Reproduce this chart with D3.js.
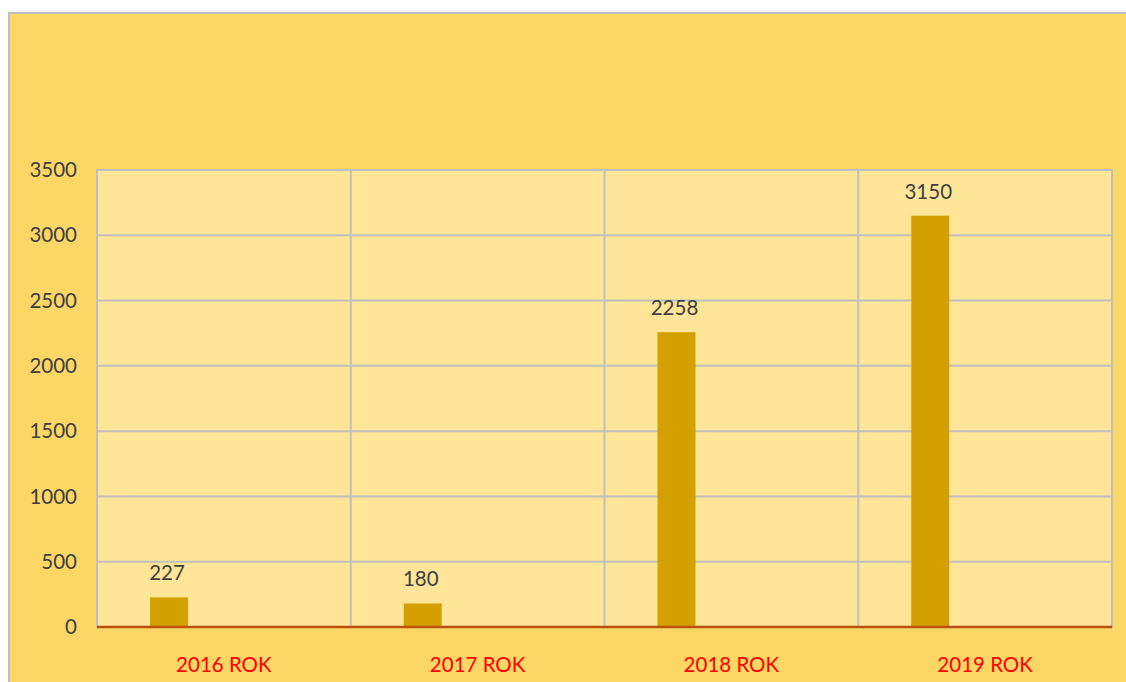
<!DOCTYPE html>
<html>
<head>
<meta charset="utf-8">
<script src="https://cdn.jsdelivr.net/npm/d3@7"></script>
<style>
  body { margin: 0; background: #fff; }
  svg { display: block; font-family: Lato, "Open Sans", sans-serif; }
</style>
</head>
<body>
<svg id="chart" width="1126" height="682"></svg>
<script>
// data
var categories = ["2016 ROK", "2017 ROK", "2018 ROK", "2019 ROK"];
var values = [227, 180, 2258, 3150];
var yTicks = [0, 500, 1000, 1500, 2000, 2500, 3000, 3500];

var svg = d3.select("#chart");
var plotLeft = 97, plotRight = 1112, plotTop = 170, plotBottom = 627;

// outer chart area
svg.append("rect")
    .attr("x", 9).attr("y", 13)
    .attr("width", 1130).attr("height", 700)
    .attr("fill", "#FDD766")
    .attr("stroke", "#BFBFBF").attr("stroke-width", 2);

var x = d3.scaleBand().domain(categories).range([plotLeft, plotRight]);
// bar sits in the first of four slots (clustered look)
var xs = d3.scaleBand().domain([0, 1, 2, 3]).range([53, x.bandwidth() - 53]);
var y = d3.scaleLinear().domain([0, 3500]).range([plotBottom, plotTop]);

// plot area
svg.append("rect")
    .attr("x", plotLeft).attr("y", plotTop)
    .attr("width", plotRight - plotLeft).attr("height", plotBottom - plotTop)
    .attr("fill", "#FFE597")
    .attr("stroke", "#BFBFBF").attr("stroke-width", 2);

// horizontal grid
svg.append("g").selectAll("line").data(yTicks.slice(1)).join("line")
    .attr("x1", plotLeft).attr("x2", plotRight)
    .attr("y1", function (d) { return y(d); })
    .attr("y2", function (d) { return y(d); })
    .attr("stroke", "#BFBFBF").attr("stroke-width", 2);

// vertical grid between categories
svg.append("g").selectAll("line").data(categories.slice(1)).join("line")
    .attr("x1", function (d) { return x(d); })
    .attr("x2", function (d) { return x(d); })
    .attr("y1", plotTop).attr("y2", plotBottom)
    .attr("stroke", "#BFBFBF").attr("stroke-width", 2);

// bars
svg.append("g").selectAll("rect").data(values).join("rect")
    .attr("x", function (d, i) { return x(categories[i]) + xs(0); })
    .attr("width", 38)
    .attr("y", function (d) { return y(d); })
    .attr("height", function (d) { return plotBottom - y(d); })
    .attr("fill", "#D4A000");

// value labels
svg.append("g").selectAll("text").data(values).join("text")
    .attr("x", function (d, i) { return x(categories[i]) + xs(0) + 17; })
    .attr("y", function (d) { return y(d) - 17; })
    .attr("text-anchor", "middle")
    .attr("font-size", 20.5)
    .attr("fill", "#404040")
    .text(function (d) { return d; });

// zero line
svg.append("line")
    .attr("x1", plotLeft).attr("x2", plotRight)
    .attr("y1", plotBottom).attr("y2", plotBottom)
    .attr("stroke", "#B8500F").attr("stroke-width", 2.5);

// y axis labels
svg.append("g").selectAll("text").data(yTicks).join("text")
    .attr("x", 77)
    .attr("y", function (d) { return y(d); })
    .attr("dy", "0.35em")
    .attr("text-anchor", "end")
    .attr("font-size", 20.5)
    .attr("fill", "#404040")
    .text(function (d) { return d; });

// x axis labels
svg.append("g").selectAll("text").data(categories).join("text")
    .attr("x", function (d) { return x(d) + x.bandwidth() / 2; })
    .attr("y", 665)
    .attr("dy", "0.35em")
    .attr("text-anchor", "middle")
    .attr("font-size", 20.5)
    .attr("fill", "#FF0000")
    .text(function (d) { return d; });
</script>
</body>
</html>
